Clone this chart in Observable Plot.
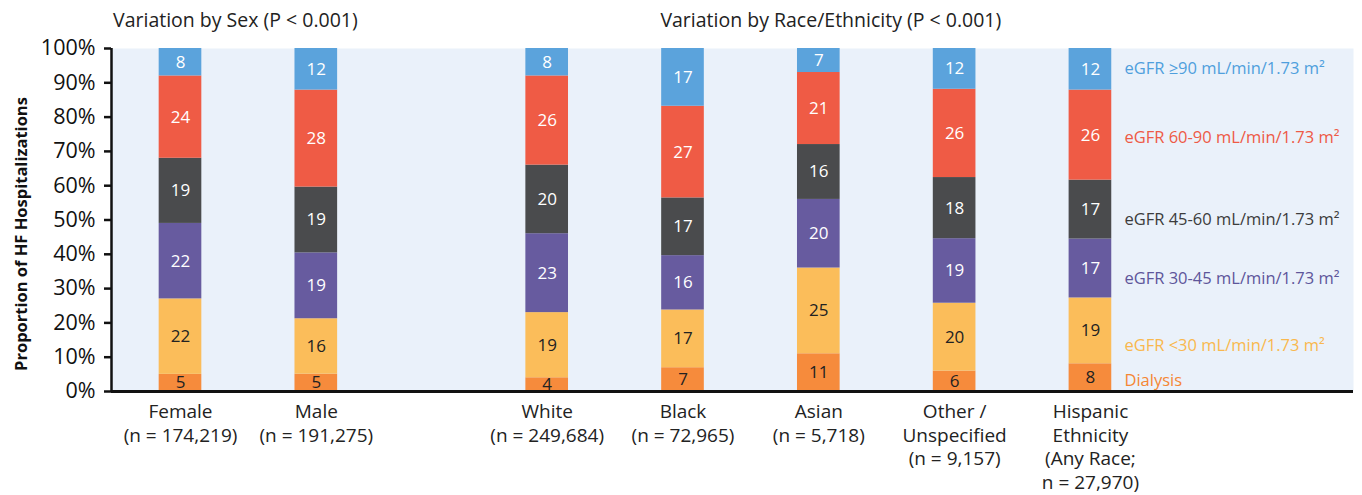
<!DOCTYPE html>
<html>
<head>
<meta charset="utf-8">
<script src="https://cdn.jsdelivr.net/npm/d3@7"></script>
<script src="https://cdn.jsdelivr.net/npm/@observablehq/plot@0.6"></script>
<style>
  html, body { margin: 0; padding: 0; background: #fff; }
  #chart svg { display: block; }
</style>
</head>
<body>
<div id="chart"></div>
<script>
// ---- data ----
const categories = ["Female", "Male", "White", "Black", "Asian", "Other / Unspecified", "Hispanic Ethnicity"];
const categoryLabels = [
  "Female\n(n = 174,219)",
  "Male\n(n = 191,275)",
  "White\n(n = 249,684)",
  "Black\n(n = 72,965)",
  "Asian\n(n = 5,718)",
  "Other /\nUnspecified\n(n = 9,157)",
  "Hispanic\nEthnicity\n(Any Race;\nn = 27,970)"
];
const groups = ["Sex", "Sex", "Race", "Race", "Race", "Race", "Race"];
const groupTitles = {Sex: "Variation by Sex (P < 0.001)", Race: "Variation by Race/Ethnicity (P < 0.001)"};
const levels = [
  "Dialysis",
  "eGFR <30 mL/min/1.73 m²",
  "eGFR 30-45 mL/min/1.73 m²",
  "eGFR 45-60 mL/min/1.73 m²",
  "eGFR 60-90 mL/min/1.73 m²",
  "eGFR ≥90 mL/min/1.73 m²"
];
const dialysis  = [5, 5, 4, 7, 11, 6, 8];
const egfrLt30  = [22, 16, 19, 17, 25, 20, 19];
const egfr30_45 = [22, 19, 23, 16, 20, 19, 17];
const egfr45_60 = [19, 19, 20, 17, 16, 18, 17];
const egfr60_90 = [24, 28, 26, 27, 21, 26, 26];
const egfrGe90  = [8, 12, 8, 17, 7, 12, 12];
const yTicks = [0, 10, 20, 30, 40, 50, 60, 70, 80, 90, 100];

// ---- styles ----
const barColors   = ["#f68b3c", "#fbbd5a", "#675b9f", "#4a4b4d", "#ef5b45", "#5ba3dc"];
const labelColors = ["#f58634", "#f9b84e", "#5e569a", "#3c3c3c", "#ee5a46", "#4f9fdd"];
const numberColors = ["#222", "#222", "#fff", "#fff", "#fff", "#fff"];
const legendDy = [3, 15, 10, 10, 3, -1];
const groupGap = 0.7;   // extra spacing between the two groups (in bar slots)
const halfBar = 0.157;

const series = [dialysis, egfrLt30, egfr30_45, egfr45_60, egfr60_90, egfrGe90];

// slot position of each category
const pos = categories.map((c, i) => i + (groups[i] === "Race" ? groupGap : 0));

// stacked rows (normalized to 100%)
const rows = [];
categories.forEach((c, i) => {
  const total = d3.sum(series, s => s[i]);
  let cum = 0;
  series.forEach((s, k) => {
    const v = s[i];
    const y1 = cum / total * 100;
    cum += v;
    const y2 = cum / total * 100;
    rows.push({cat: c, i, k, level: levels[k], value: v, x: pos[i], y1, y2, ym: (y1 + y2) / 2});
  });
});

const lastIdx = categories.length - 1;
const legendRows = rows.filter(r => r.i === lastIdx);

const groupNames = ["Sex", "Race"];
const titleRows = groupNames.map(g => {
  const ps = pos.filter((p, i) => groups[i] === g);
  return {text: groupTitles[g], x: d3.mean([d3.min(ps), d3.max(ps)]), dx: g === "Sex" ? -13 : 12};
});

const xDomain = [-0.508, 8.637];
const font = "'Open Sans', 'Noto Sans', sans-serif";

const chart = Plot.plot({
  width: 1362,
  height: 495,
  marginLeft: 111,
  marginRight: 9,
  marginTop: 48,
  marginBottom: 104,
  style: {fontFamily: font, fontSize: "20px", background: "#fff", color: "#222"},
  x: {type: "linear", domain: xDomain, axis: null},
  y: {domain: [0, 100], ticks: yTicks, tickFormat: d => d + "%", label: null},
  marks: [
    Plot.frame({fill: "#eaf1fa", stroke: null}),
    Plot.rect(rows, {
      x1: d => d.x - halfBar, x2: d => d.x + halfBar,
      y1: "y1", y2: "y2",
      fill: d => barColors[d.k]
    }),
    Plot.text(rows, {
      x: "x", y: "ym", text: d => String(d.value),
      fill: d => numberColors[d.k], fontSize: 17
    }),
    ...legendRows.map(r => Plot.text([r], {
      x: "x", y: "ym", text: "level", textAnchor: "start",
      dx: 34, dy: legendDy[r.k],
      fill: labelColors[r.k], fontSize: 16.5
    })),
    Plot.axisY({ticks: yTicks, tickFormat: d => d + "%", tickSize: 7, tickPadding: 9, fontSize: 21.5, strokeWidth: 2.5, color: "#111", label: null}),
    Plot.ruleX([xDomain[0]], {stroke: "#111", strokeWidth: 2.5, y1: 0, y2: 100}),
    Plot.ruleY([0], {stroke: "#111", strokeWidth: 2.8}),
    Plot.text(categories.map((c, i) => ({x: pos[i], label: categoryLabels[i]})), {
      x: "x", y: 0, text: "label", lineAnchor: "top", dy: 10,
      fontSize: 19, lineHeight: 1.24, fill: "#222"
    }),
    ...titleRows.map(t => Plot.text([t], {
      x: "x", y: 100, text: "text", lineAnchor: "bottom", dy: -22, dx: t.dx,
      fontSize: 19.5, fill: "#222"
    })),
    Plot.text(["Proportion of HF Hospitalizations"], {
      frameAnchor: "left", textAnchor: "middle", rotate: -90, dx: -90, dy: 14,
      fontSize: 16.5, fontWeight: "bold", fill: "#111"
    })
  ]
});

document.getElementById("chart").appendChild(chart);
</script>
</body>
</html>
